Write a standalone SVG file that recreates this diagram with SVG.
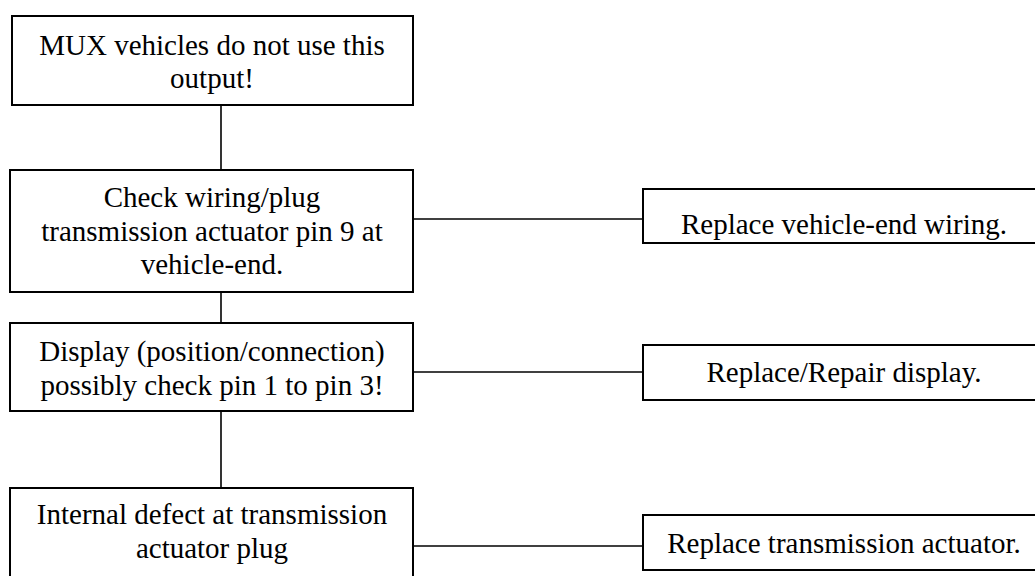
<svg xmlns="http://www.w3.org/2000/svg" width="1035" height="576" viewBox="0 0 1035 576">
<style>
.box{fill:#fff;stroke:#000;stroke-width:2}
.t{font-family:"Liberation Serif","Times New Roman",serif;font-size:29px;fill:#000;text-anchor:middle}
.c{stroke:#000;stroke-width:1.6;fill:none}
</style>
<rect width="1035" height="576" fill="#fff"/>
<g id="connectors">
<line class="c" x1="221" y1="105" x2="221" y2="170"/>
<line class="c" x1="221" y1="292" x2="221" y2="323"/>
<line class="c" x1="221" y1="411" x2="221" y2="488"/>
<line class="c" x1="413" y1="219" x2="643" y2="219"/>
<line class="c" x1="413" y1="372" x2="643" y2="372"/>
<line class="c" x1="413" y1="546" x2="643" y2="546"/>
</g>
<g id="n1">
<rect class="box" x="12" y="16" width="401" height="89"/>
<text class="t" x="212" y="55">MUX vehicles do not use this</text>
<text class="t" x="212" y="88">output!</text>
</g>
<g id="n2">
<rect class="box" x="10" y="170" width="403" height="122"/>
<text class="t" x="212" y="207">Check wiring/plug</text>
<text class="t" x="212" y="241">transmission actuator pin 9 at</text>
<text class="t" x="212" y="274">vehicle-end.</text>
</g>
<g id="n3">
<rect class="box" x="10" y="323" width="403" height="88"/>
<text class="t" x="212" y="361">Display (position/connection)</text>
<text class="t" x="212" y="395">possibly check pin 1 to pin 3!</text>
</g>
<g id="n4">
<rect class="box" x="10" y="488" width="403" height="100"/>
<text class="t" x="212" y="524">Internal defect at transmission</text>
<text class="t" x="212" y="558">actuator plug</text>
</g>
<g id="r1">
<rect class="box" x="643" y="189" width="410" height="54"/>
<text class="t" x="844" y="234">Replace vehicle-end wiring.</text>
</g>
<g id="r2">
<rect class="box" x="643" y="345" width="410" height="55"/>
<text class="t" x="844" y="382">Replace/Repair display.</text>
</g>
<g id="r3">
<rect class="box" x="643" y="515" width="410" height="55"/>
<text class="t" x="844" y="553">Replace transmission actuator.</text>
</g>
</svg>
